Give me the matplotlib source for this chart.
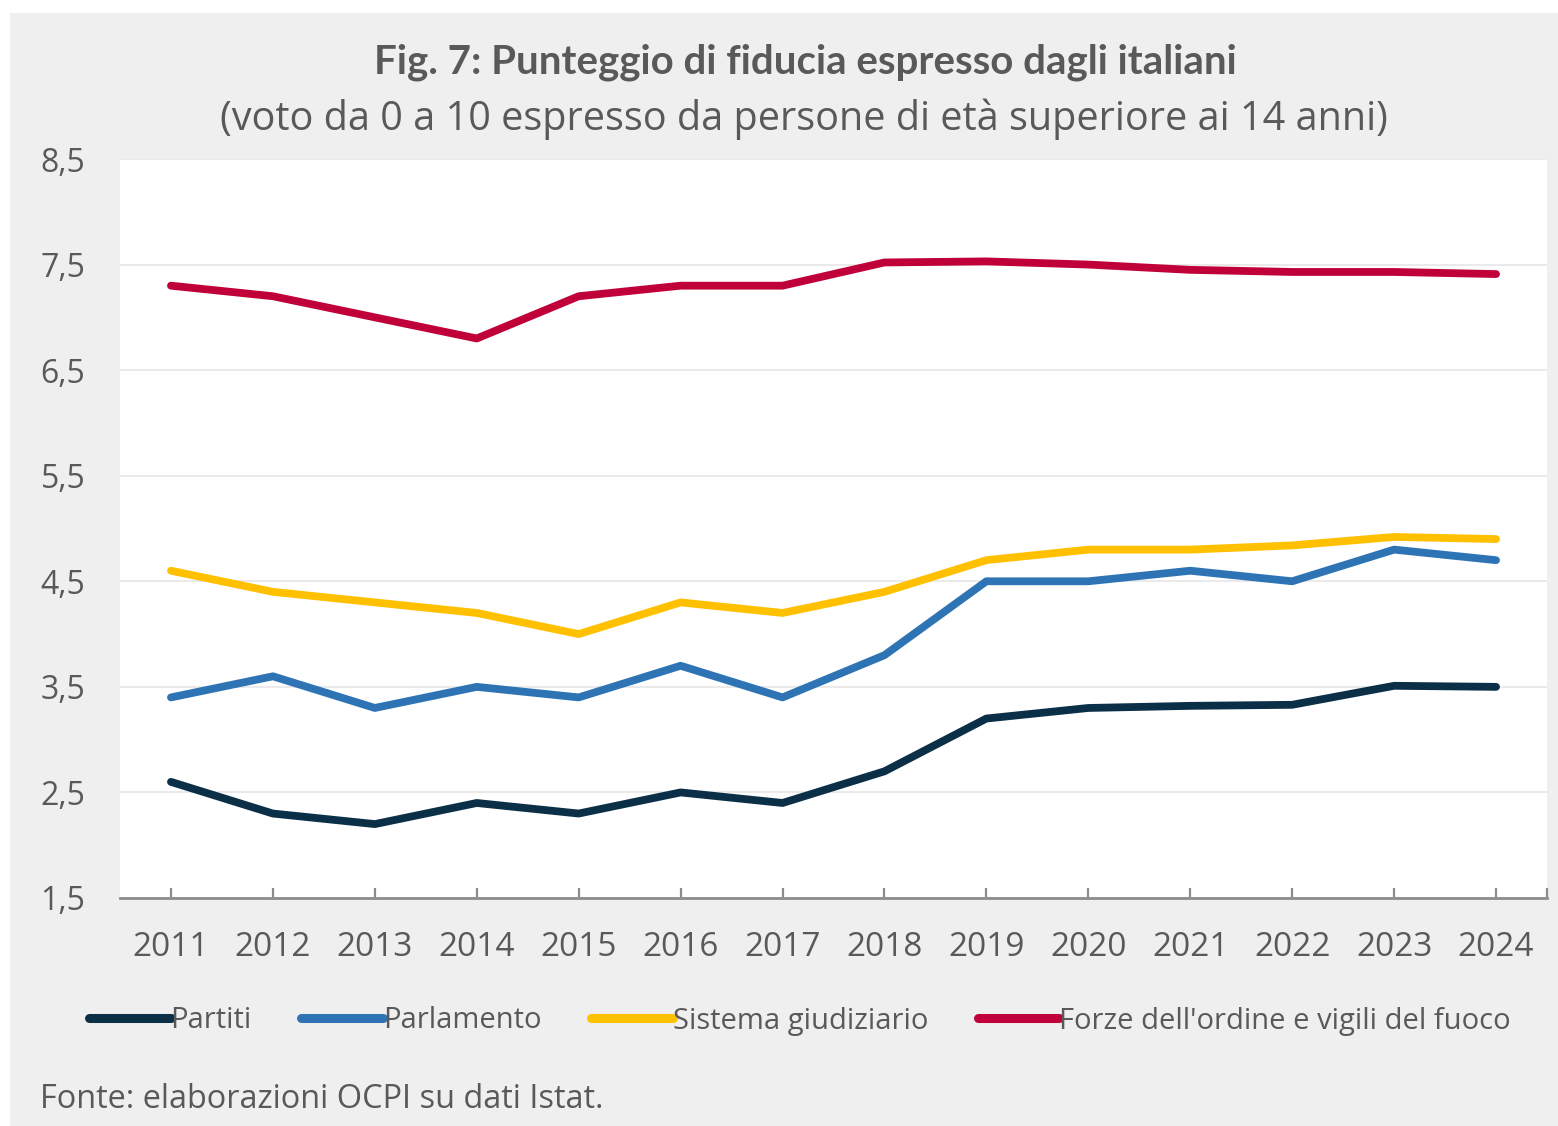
import matplotlib.pyplot as plt
from matplotlib.patches import Rectangle
from matplotlib.ticker import FuncFormatter

# data
anni = ['2011', '2012', '2013', '2014', '2015', '2016', '2017',
        '2018', '2019', '2020', '2021', '2022', '2023', '2024']
partiti = [2.6, 2.3, 2.2, 2.4, 2.3, 2.5, 2.4, 2.7, 3.2, 3.3, 3.32, 3.33, 3.51, 3.5]
parlamento = [3.4, 3.6, 3.3, 3.5, 3.4, 3.7, 3.4, 3.8, 4.5, 4.5, 4.6, 4.5, 4.8, 4.7]
giudiziario = [4.6, 4.4, 4.3, 4.2, 4.0, 4.3, 4.2, 4.4, 4.7, 4.8, 4.8, 4.84, 4.92, 4.9]
forze = [7.3, 7.2, 7.0, 6.8, 7.2, 7.3, 7.3, 7.52, 7.53, 7.5, 7.45, 7.43, 7.43, 7.41]

serie = [
    ('Partiti', partiti, '#0b2f47'),
    ('Parlamento', parlamento, '#2e74b5'),
    ('Sistema giudiziario', giudiziario, '#ffc000'),
    ("Forze dell'ordine e vigili del fuoco", forze, '#c00039'),
]

plt.rcParams['font.family'] = ['Open Sans', 'DejaVu Sans']
txt = '#595959'

W, H = 1558, 1126
fig = plt.figure(figsize=(W / 100, H / 100), dpi=100, facecolor='white')

# grey card behind everything
fig.patches.append(Rectangle((10 / W, 0), 1 - 10 / W, 1 - 13 / H,
                             transform=fig.transFigure, facecolor='#efefef',
                             edgecolor='none', zorder=-10))

ax = fig.add_axes([120 / W, (H - 898) / H, (1547 - 120) / W, (898 - 159) / H])
ax.set_facecolor('white')

x = list(range(len(anni)))
for nome, valori, col in serie:
    ax.plot(x, valori, color=col, lw=5.6, solid_capstyle='round',
            solid_joinstyle='round', label=nome)

ax.set_xlim(-0.5, len(anni) - 0.5)
ax.set_ylim(1.5, 8.5)
ax.set_yticks([1.5, 2.5, 3.5, 4.5, 5.5, 6.5, 7.5, 8.5])
ax.yaxis.set_major_formatter(FuncFormatter(lambda v, p: f'{v:.1f}'.replace('.', ',')))
ax.set_xticks(x)
ax.set_xticklabels(anni)
ax.set_xticks([len(anni) - 0.5], minor=True)

ax.grid(axis='y', color='#e6e6e6', lw=1.2)
ax.set_axisbelow(True)
for s in ['top', 'right', 'left']:
    ax.spines[s].set_visible(False)
ax.spines['bottom'].set_color('#8c8c8c')
ax.spines['bottom'].set_linewidth(2)

ax.tick_params(axis='y', length=0, labelsize=23, labelcolor=txt, pad=25)
ax.tick_params(axis='x', which='both', direction='in', length=7, width=1.6,
               color='#8c8c8c', labelsize=24, labelcolor=txt, pad=24)

fig.text(805 / W, 1 - 62 / H, 'Fig. 7: Punteggio di fiducia espresso dagli italiani',
         ha='center', va='center', fontsize=29, fontweight='bold', color=txt,
         family=['Lato', 'DejaVu Sans'])
fig.text(804 / W, 1 - 119 / H, '(voto da 0 a 10 espresso da persone di età superiore ai 14 anni)',
         ha='center', va='center', fontsize=28.5, color=txt)

leg = fig.legend(loc='center', bbox_to_anchor=(800 / W, 1 - 1021 / H), ncol=4,
                 frameon=False, fontsize=21, handlelength=2.8, handletextpad=0.0,
                 columnspacing=1.7, labelcolor=txt)
for h in leg.get_lines():
    h.set_linewidth(6.5)

fig.text(40 / W, 1 - 1100 / H, 'Fonte: elaborazioni OCPI su dati Istat.',
         ha='left', va='center', fontsize=23.4, color=txt)

fig.savefig('out.png', dpi=100, facecolor=fig.get_facecolor())
